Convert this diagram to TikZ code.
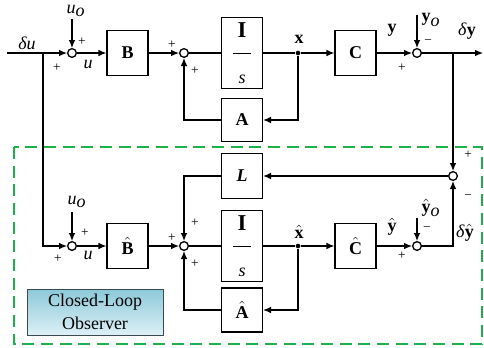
\documentclass[tikz,border=0pt]{standalone}
\usepackage[no-math]{fontspec}
\setmainfont{Liberation Serif}
\usetikzlibrary{arrows.meta}
\definecolor{obsgreen}{HTML}{1DB04B}
\definecolor{obstop}{HTML}{8CC9D9}
\definecolor{obsbot}{HTML}{DDF0F6}
\definecolor{obsedge}{HTML}{3A4A50}
\newcommand{\bv}[1]{\textbf{#1}}
\newcommand{\hv}[1]{$\hat{\textbf{#1}}$}

\begin{document}
\begin{tikzpicture}[x=0.75pt, y=-0.75pt,
        font=\fontsize{13.5}{16}\selectfont,
        blk/.style={draw, line width=0.9pt, minimum width=30.75pt, minimum height=33.75pt, inner sep=0pt},
        integ/.style={blk, minimum height=53.25pt, align=center, font=\fontsize{13.5}{15}\selectfont},
        sum/.style={circle, draw, line width=1pt, minimum size=6.5pt, inner sep=0pt},
        dot/.style={circle, fill, minimum size=3.5pt, inner sep=0pt},
        arrow/.style={-{Latex[length=6pt, width=5pt]}, line width=0.9pt},
        wire/.style={line width=0.9pt},
        sgn/.style={font=\fontsize{10}{10}\selectfont, inner sep=0pt},
        lbl/.style={inner sep=0pt}
    ]
        \useasboundingbox (0,0) rectangle (484,347);

        % Observer frame
        \draw[obsgreen, line width=2.2pt, dash pattern=on 9pt off 5pt] (14,147) rectangle (482,344);
        \node[draw=obsedge, line width=0.6pt, top color=obstop, bottom color=obsbot,
              minimum width=102pt, minimum height=34.5pt, align=center,
              font=\fontsize{13.5}{17}\selectfont] (obs) at (95,312) {Closed-Loop\\Observer};

        % Plant
        \coordinate (in) at (7,53);
        \coordinate (k1) at (43,53);
        \node[sum] (s1) at (72,53) {};
        \node[blk] (B) at (127.5,53) {\bv{B}};
        \node[sum] (s2) at (184,53) {};
        \node[integ] (int1) at (242,53) {{\fontsize{17}{17}\selectfont\bv{I}}\\[-3pt]\rule{13.5pt}{0.6pt}\\[7pt]\textit{s}};
        \node[dot] (x) at (298,53) {};
        \node[blk] (C) at (355.5,53) {\bv{C}};
        \node[sum] (s3) at (417,53) {};
        \coordinate (k2) at (453,53);
        \coordinate (out) at (483,53);
        \node[blk, minimum height=32.25pt] (A) at (242,120) {\bv{A}};
        \coordinate (uo1) at (72,19);
        \coordinate (yo1) at (417,15);

        % Observer
        \node[sum] (s4) at (453,176) {};
        \node[blk] (L) at (242,176) {\textbf{\textit{L}}};
        \node[sum] (s5) at (72,246) {};
        \node[blk] (Bh) at (127.5,246) {\hv{B}};
        \node[sum] (s6) at (184,246) {};
        \node[integ] (int2) at (242,246) {{\fontsize{17}{17}\selectfont\bv{I}}\\[-3pt]\rule{13.5pt}{0.6pt}\\[7pt]\textit{s}};
        \node[dot] (xh) at (298,246) {};
        \node[blk] (Ch) at (355.5,246) {\hv{C}};
        \node[sum] (s7) at (417,246) {};
        \node[blk, minimum height=33pt] (Ah) at (242,310) {\hv{A}};
        \coordinate (uo2) at (72,212);
        \coordinate (yo2) at (417,218);

        % Plant connections
        \draw[arrow] (in) -- (s1);
        \draw[arrow] (uo1) -- (s1);
        \draw[arrow] (s1) -- (B);
        \draw[arrow] (B) -- (s2);
        \draw[wire] (s2) -- (int1);
        \draw[wire] (int1) -- (x);
        \draw[arrow] (x) -- (C);
        \draw[arrow] (x) |- (A);
        \draw[arrow] (A) -| (s2);
        \draw[arrow] (C) -- (s3);
        \draw[arrow] (yo1) -- (s3);
        \draw[arrow] (s3) -- (out);

        % Observer connections
        \draw[arrow] (k1) |- (s5);
        \draw[arrow] (uo2) -- (s5);
        \draw[arrow] (s5) -- (Bh);
        \draw[arrow] (Bh) -- (s6);
        \draw[wire] (s6) -- (int2);
        \draw[wire] (int2) -- (xh);
        \draw[arrow] (xh) -- (Ch);
        \draw[arrow] (xh) |- (Ah);
        \draw[arrow] (Ah) -| (s6);
        \draw[arrow] (Ch) -- (s7);
        \draw[arrow] (yo2) -- (s7);
        \draw[arrow] (s7) -| (s4);
        \draw[arrow] (k2) -- (s4);
        \draw[arrow] (s4) -- (L);
        \draw[arrow] (L) -| (s6);

        % Signal labels
        \node[lbl] (du) at (27,43) {\textit{δu}};
        \node[lbl] (uo1l) at (76,11) {$\textit{u}_{\textit{o}}$};
        \node[lbl] (u1) at (88,64) {\textit{u}};
        \node[lbl] (xl) at (299,39) {\bv{x}};
        \node[lbl] (yl) at (392,30) {\bv{y}};
        \node[lbl] (yol) at (431,20) {$\textbf{y}_{\textit{o}}$};
        \node[lbl] (dy) at (467,31) {\textit{δ}\bv{y}};
        \node[lbl] (uo2l) at (77,202) {$\textit{u}_{\textit{o}}$};
        \node[lbl] (u2) at (88,255) {\textit{u}};
        \node[lbl] (xhl) at (299,232) {\hv{x}};
        \node[lbl] (yhl) at (392,227) {\hv{y}};
        \node[lbl] (yhol) at (431,208) {$\hat{\textbf{y}}_{\textit{o}}$};
        \node[lbl] (dyh) at (465,233) {\textit{δ}\hv{y}};

        % Signs
        \node[sgn] (p1) at (82,42) {+};
        \node[sgn] (p2) at (57,68) {+};
        \node[sgn] (p3) at (172,45) {+};
        \node[sgn] (p4) at (195,71) {+};
        \node[sgn] (m1) at (428,42) {−};
        \node[sgn] (p5) at (402,68) {+};
        \node[sgn] (p6) at (468,155) {+};
        \node[sgn] (m2) at (468,197) {−};
        \node[sgn] (p7) at (85,233) {+};
        \node[sgn] (p8) at (58,259) {+};
        \node[sgn] (p9) at (172,238) {+};
        \node[sgn] (p10) at (195,223) {+};
        \node[sgn] (p11) at (195,264) {+};
        \node[sgn] (m3) at (427,229) {−};
        \node[sgn] (p12) at (402,256) {+};
    \end{tikzpicture}
\end{document}
